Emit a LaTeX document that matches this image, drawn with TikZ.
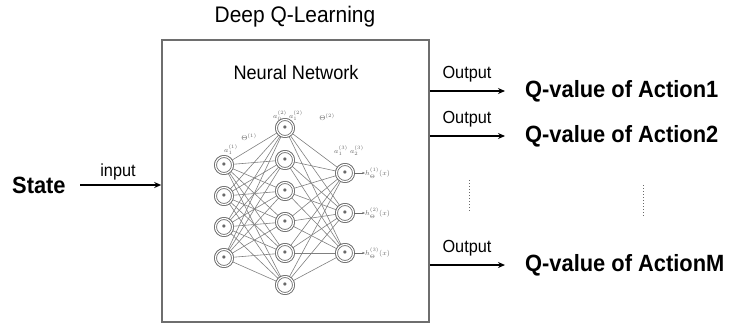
\documentclass[tikz,border=0pt]{standalone}
\usepackage{fontspec}
\setmainfont{Liberation Sans}
\usetikzlibrary{arrows.meta,calc}
\definecolor{netgray}{RGB}{105,105,105}
\definecolor{boxgray}{RGB}{110,110,110}
\newcommand{\narrow}[1]{\scalebox{0.93}[1]{#1}}
\tikzset{
  big/.style={font=\fontsize{23.5}{25}\selectfont\bfseries, inner sep=0pt},
  lbl/.style={font=\fontsize{17.5}{19}\selectfont, inner sep=0pt},
  arr/.style={-{Stealth[length=7pt,width=6pt]}, line width=1.3pt, black},
  neuron/.style={circle, draw=netgray, double=white, double distance=1.2pt, line width=0.8pt,
                 minimum size=17pt, inner sep=0pt, fill=white},
  wire/.style={draw=netgray!85, line width=0.6pt},
  tiny/.style={font=\fontsize{7}{8}\selectfont, text=netgray, inner sep=0pt},
  dotsline/.style={dotted, line width=1pt, netgray}
}
\begin{document}
\begin{tikzpicture}[x=1pt,y=-1pt]
\useasboundingbox (0,0) rectangle (735,330);

% outer frame and titles
\node[draw=boxgray, line width=1.6pt, minimum width=267pt, minimum height=282pt, inner sep=0pt]
  (box) at (295.5,181) {};
\node[font=\fontsize{22.5}{24}\selectfont, inner sep=0pt] (title) at (295,17) {\narrow{Deep Q-Learning}};
\node[font=\fontsize{19.5}{21}\selectfont, inner sep=0pt] (nn) at (296,73) {\narrow{Neural Network}};

% neural network layers
\foreach \i/\y in {1/165,2/196,3/227,4/258}
  \node[neuron] (in\i) at (224,\y) {};
\foreach \i/\y in {1/128,2/160,3/191,4/222,5/253,6/285}
  \node[neuron] (h\i) at (285,\y) {};
\foreach \i/\y in {1/173,2/213,3/253}
  \node[neuron] (o\i) at (345,\y) {};

\foreach \a in {1,...,4}
  \foreach \b in {1,...,6}
    \draw[wire] (in\a) -- (h\b);
\foreach \a in {1,...,6}
  \foreach \b in {1,...,3}
    \draw[wire] (h\a) -- (o\b);
% redraw neurons over the wires
\foreach \i/\y in {1/165,2/196,3/227,4/258}
  \node[neuron] at (224,\y) {\footnotesize\color{netgray}$\bullet$};
\foreach \i/\y in {1/128,2/160,3/191,4/222,5/253,6/285}
  \node[neuron] at (285,\y) {\footnotesize\color{netgray}$\bullet$};
\foreach \i/\y in {1/173,2/213,3/253}
  \node[neuron] at (345,\y) {\footnotesize\color{netgray}$\bullet$};

% layer annotations
\node[tiny] (t1) at (249,137) {$\Theta^{(1)}$};
\node[tiny] (t2) at (327,117) {$\Theta^{(2)}$};
\node[tiny] (a1) at (231,150) {$a_1^{(1)}$};
\node[tiny] (a2) at (288,116) {$a_0^{(2)}\;a_1^{(2)}$};
\node[tiny] (a3) at (349,151) {$a_1^{(3)}\;a_2^{(3)}$};
\foreach \i in {1,2,3} {
  \node[tiny, anchor=west] (h\i lab) at ($(o\i)+(20,0)$) {$h_\Theta^{(\i)}(x)$};
  \draw[netgray, line width=0.5pt, -{Stealth[length=3pt]}] (o\i) -- (h\i lab);
}

% input side
\node[big, anchor=west] (state) at (12,185) {\narrow{State}};
\coordinate (inA) at (80,185);
\draw[arr] (inA) -- (box.west |- inA);
\node[lbl] (inlab) at (118,172) {\narrow{input}};

% output side
\foreach \k/\y/\txt in {1/91/Q-value of Action1, 2/136/Q-value of Action2, 3/265/Q-value of ActionM} {
  \node[big, anchor=west] (q\k) at (525,\y) {\narrow{\txt}};
  \coordinate (os\k) at (box.east |- q\k);
  \coordinate (oe\k) at (505,\y);
  \draw[arr] (os\k) -- (oe\k);
  \node[lbl] (out\k) at (467,\y-17) {\narrow{Output}};
}

% ellipsis marks between the outputs
\coordinate (d1a) at (469,180);
\coordinate (d1b) at (469,212);
\coordinate (d2a) at (643,185);
\coordinate (d2b) at (643,218);
\draw[dotsline] (d1a) -- (d1b);
\draw[dotsline] (d2a) -- (d2b);
\end{tikzpicture}
\end{document}
